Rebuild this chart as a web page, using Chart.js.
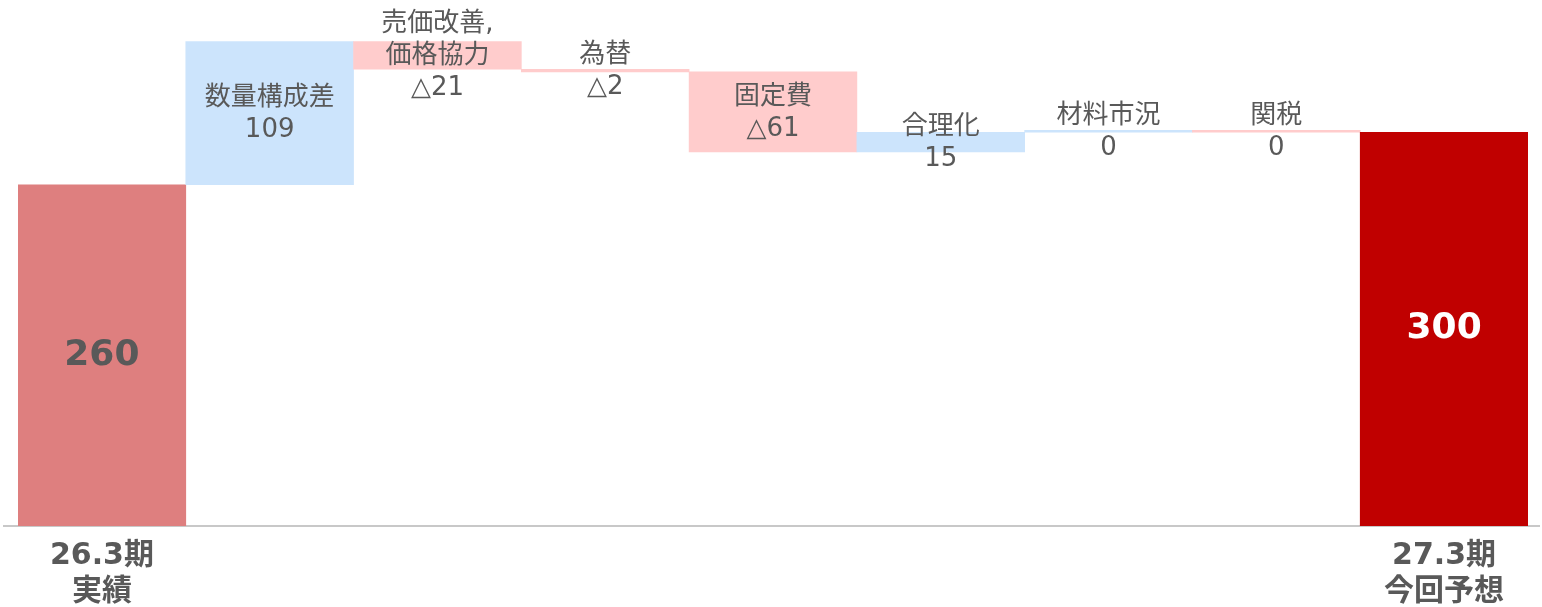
<!DOCTYPE html>
<html>
<head>
<meta charset="utf-8">
<script src="https://cdn.jsdelivr.net/npm/chart.js@4"></script>
<style>
	html, body { margin: 0; padding: 0; background: #fff; }
	#wrap { width: 1542px; height: 607px; position: relative; }
</style>
</head>
<body>
<div id="wrap"><canvas id="waterfall"></canvas></div>
<script>
const axisLabels = [['26.3期', '実績'], '', '', '', '', '', '', '', ['27.3期', '今回予想']];
const stepNames = ['', '数量構成差', ['売価改善,', '価格協力'], '為替', '固定費', '合理化', '材料市況', '関税', ''];
const startValue = 260;
const changes = [109, -21, -2, -61, 15, 0, 0];
const endValue = 300;
const barColors = ['#DE7F7F', '#CCE4FC', '#FFCCCC', '#FFCCCC', '#FFCCCC', '#CCE4FC', '#CCE4FC', '#FFCCCC', '#C00000'];

// floating bars for the waterfall
const ranges = [[0, startValue]];
let running = startValue;
changes.forEach(c => {
	ranges.push([running, running + c]);
	running += c;
});
ranges.push([0, endValue]);

const valueText = i => {
	if (i === 0) return String(startValue);
	if (i === ranges.length - 1) return String(endValue);
	const c = changes[i - 1];
	return c < 0 ? '△' + Math.abs(c) : String(c);
};

const FONT = '"DejaVu Sans", "Noto Sans CJK JP", sans-serif';

const labelPlugin = {
	id: 'stepLabels',
	beforeDatasetsDraw(chart) {
		const { ctx } = chart;
		ctx.save();
		ctx.strokeStyle = '#C8C8C8';
		ctx.lineWidth = 2;
		ctx.beginPath();
		ctx.moveTo(3, chart.chartArea.bottom);
		ctx.lineTo(1540, chart.chartArea.bottom);
		ctx.stroke();
		ctx.restore();
	},
	afterDatasetsDraw(chart) {
		const { ctx } = chart;
		const bars = chart.getDatasetMeta(0).data;
		ctx.save();
		ctx.textAlign = 'center';
		ctx.textBaseline = 'middle';
		bars.forEach((bar, i) => {
			const mid = (bar.y + bar.base) / 2;
			if (i === 0 || i === bars.length - 1) {
				ctx.font = 'bold 36px ' + FONT;
				ctx.fillStyle = i === 0 ? '#595959' : '#FFFFFF';
				ctx.fillText(valueText(i), bar.x, mid);
				return;
			}
			const name = stepNames[i];
			const lines = (Array.isArray(name) ? name : [name]).concat([valueText(i)]);
			const lh = 32;
			const top = mid - (lines.length - 1) * lh / 2 + 1;
			ctx.font = '26px ' + FONT;
			ctx.fillStyle = '#595959';
			lines.forEach((t, k) => ctx.fillText(t, bar.x, top + k * lh));
		});
		ctx.restore();
	},
};

new Chart(document.querySelector('#waterfall'), {
	type: 'bar',
	data: {
		labels: axisLabels,
		datasets: [
			{
				data: ranges,
				backgroundColor: barColors,
				borderWidth: 0,
				minBarLength: 2,
				categoryPercentage: 1,
				barPercentage: 1,
			},
		],
	},
	options: {
		responsive: true,
		maintainAspectRatio: false,
		animation: false,
		layout: { padding: { left: 18, right: 14, top: 1, bottom: 0 } },
		plugins: { legend: { display: false }, tooltip: { enabled: false } },
		scales: {
			x: {
				grid: { display: false, drawTicks: false },
				border: { display: false },
				ticks: {
					color: '#595959',
					font: { family: FONT, size: 30, weight: 'bold', lineHeight: 1.18 },
					padding: 13,
					maxRotation: 0,
					autoSkip: false,
				},
				afterFit: scale => { scale.height = 81; },
			},
			y: {
				display: false,
				min: 0,
				max: 400,
			},
		},
	},
	plugins: [labelPlugin],
});
</script>
</body>
</html>
